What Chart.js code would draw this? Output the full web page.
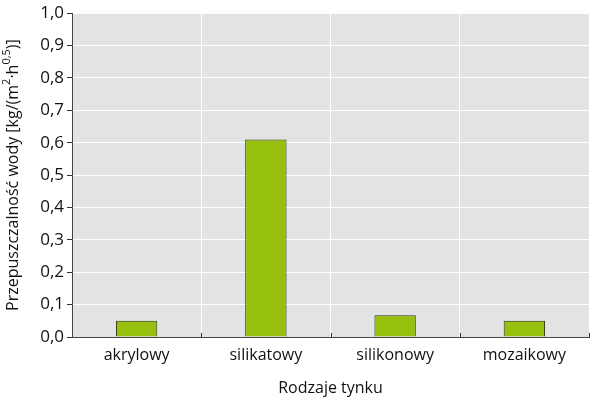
<!DOCTYPE html>
<html><head><meta charset="utf-8">
<script src="https://cdn.jsdelivr.net/npm/chart.js@4/dist/chart.umd.min.js"></script>
<style>html,body{margin:0;padding:0;background:#fff}#wrap{width:600px;height:403px}</style>
</head><body><div id="wrap"><canvas id="c" width="600" height="403"></canvas></div>
<script>
const categories = ['akrylowy', 'silikatowy', 'silikonowy', 'mozaikowy'];
const values = [0.05, 0.61, 0.067, 0.05];
const yTitleMain = 'Przepuszczalność wody [kg/(m';
const xTitle = 'Rodzaje tynku';
const FONT = '"Open Sans", sans-serif';
const TXT = '#111111';

const decor = {
  id: 'decor',
  beforeDraw(chart) {
    const {ctx, chartArea: a} = chart;
    ctx.save();
    ctx.fillStyle = '#e2e4e3';
    ctx.fillRect(a.left, a.top, a.right - a.left, a.bottom - a.top);
    ctx.restore();
  },
  afterDraw(chart) {
    const {ctx, chartArea: a, scales} = chart;
    const xs = scales.x;
    ctx.save();
    ctx.strokeStyle = '#333';
    ctx.lineWidth = 1;
    const half = (xs.getPixelForValue(1) - xs.getPixelForValue(0)) / 2;
    for (let i = 0; i < categories.length; i++) {
      const px = Math.round(xs.getPixelForValue(i) + half) + 0.5;
      ctx.beginPath(); ctx.moveTo(px, a.bottom); ctx.lineTo(px, a.bottom - 4); ctx.stroke();
    }
    // y title with superscripts
    ctx.fillStyle = TXT;
    ctx.translate(13, (a.top + a.bottom) / 2);
    ctx.rotate(-Math.PI / 2);
    const big = '16px ' + FONT, small = '11px ' + FONT;
    const parts = [[yTitleMain, big, 0], ['2', small, -6], ['·h', big, 0], ['0,5', small, -6], [')]', big, 0]];
    let w = 0;
    parts.forEach(p => { ctx.font = p[1]; w += ctx.measureText(p[0]).width; });
    let x = -w / 2;
    ctx.textBaseline = 'middle';
    parts.forEach(p => { ctx.font = p[1]; ctx.fillText(p[0], x, p[2]); x += ctx.measureText(p[0]).width; });
    ctx.restore();
    // x title
    ctx.save();
    ctx.fillStyle = TXT;
    ctx.font = '16px ' + FONT;
    ctx.textAlign = 'center';
    ctx.textBaseline = 'middle';
    ctx.fillText(xTitle, (a.left + a.right) / 2, 388);
    ctx.restore();
  }
};

new Chart(document.getElementById('c'), {
  type: 'bar',
  data: {
    labels: categories,
    datasets: [{
      data: values,
      backgroundColor: '#97bf0d',
      borderColor: '#2e3310',
      borderWidth: 1,
      barPercentage: 0.32,
      categoryPercentage: 1
    }]
  },
  options: {
    responsive: false,
    animation: false,
    layout: {padding: {left: 0, right: 11, top: 10, bottom: 0}},
    plugins: {legend: {display: false}, tooltip: {enabled: false}},
    scales: {
      x: {
        grid: {color: '#ffffff', lineWidth: 1, offset: true, drawTicks: false, z: 0},
        border: {color: '#444', width: 1},
        ticks: {color: TXT, font: {family: FONT, size: 16}, padding: 9},
        afterFit(s) { s.height = 66; }
      },
      y: {
        min: 0, max: 1,
        grid: {color: '#ffffff', lineWidth: 1, tickColor: '#333', tickLength: 5},
        border: {color: '#444', width: 1},
        ticks: {stepSize: 0.1, color: TXT, font: {family: FONT, size: 17}, padding: 3,
          callback: v => v.toFixed(1).replace('.', ',')},
        afterFit(s) { s.width = 72; }
      }
    }
  },
  plugins: [decor]
});
</script>
</body></html>
